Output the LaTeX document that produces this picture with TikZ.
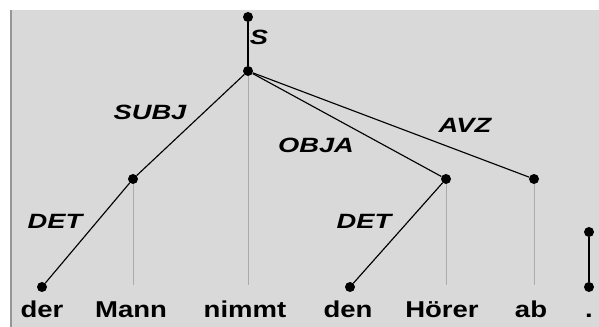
\documentclass[tikz,border=0pt]{standalone}
\usepackage{fontspec}
\usepackage{xcolor}
\usepackage{tikz}
\usetikzlibrary{positioning,calc}
\newfontfamily\treefont[FakeStretch=1.2]{Liberation Sans}
\newfontfamily\relfont[FakeStretch=1.32]{Liberation Sans}
\definecolor{panel}{RGB}{217,217,217}
\definecolor{rim}{RGB}{150,150,150}
\definecolor{proj}{RGB}{172,172,172}
\tikzset{
  dot/.style={circle,fill=black,inner sep=0pt,minimum size=7.5pt},
  dep/.style={line width=0.85pt,black},
  projline/.style={line width=0.5pt,proj},
  word/.style={anchor=base,inner sep=0pt,font=\treefont\bfseries\fontsize{17.2}{19}\selectfont},
  rel/.style={inner sep=0pt,font=\relfont\bfseries\itshape\fontsize{15.5}{17}\selectfont}
}
\begin{document}
\begin{tikzpicture}[x=0.75pt,y=-0.75pt]
  \useasboundingbox (0,0) rectangle (599,327);
  \fill[panel] (11,10) rectangle (599,327);
  \draw[rim,line width=1.2pt] (11,10) -- (11,327);
  % dependency nodes
  \node[dot] (top) at (248,17) {};
  \node[dot] (nimmt) at (248,71) {};
  \node[dot] (mann) at (133,179) {};
  \node[dot] (der) at (42,287) {};
  \node[dot] (hoerer) at (446,179) {};
  \node[dot] (den) at (350,287) {};
  \node[dot] (ab) at (534,179) {};
  \node[dot] (pTop) at (589,232) {};
  \node[dot] (pBot) at (589,287) {};
  % words
  \node[word] (wDer) at (42,318) {der};
  \node[word] (wMann) at (131,318) {Mann};
  \node[word] (wNimmt) at (245,318) {nimmt};
  \node[word] (wDen) at (348,318) {den};
  \node[word] (wHoerer) at (442,318) {Hörer};
  \node[word] (wAb) at (531,318) {ab};
  \node[word] (wDot) at (589,318) {.};
  % projection lines
  \coordinate (eMann) at (133,285);
  \coordinate (eNimmt) at (248,285);
  \coordinate (eHoerer) at (446,285);
  \coordinate (eAb) at (534,285);
  \draw[projline] (mann) -- (eMann);
  \draw[projline] (nimmt) -- (eNimmt);
  \draw[projline] (hoerer) -- (eHoerer);
  \draw[projline] (ab) -- (eAb);
  % edges
  \draw[dep] (top) -- (nimmt);
  \draw[dep] (nimmt) -- (mann);
  \draw[dep] (mann) -- (der);
  \draw[dep] (nimmt) -- (hoerer);
  \draw[dep] (hoerer) -- (den);
  \draw[dep] (nimmt) -- (ab);
  \draw[dep] (pTop) -- (pBot);
  % relation labels
  \node[rel] (lS) at (259,37) {S};
  \node[rel] (lSubj) at (150,112) {SUBJ};
  \node[rel] (lDet) at (55,221) {DET};
  \node[rel] (lObja) at (316,145) {OBJA};
  \node[rel] (lAvz) at (465,125) {AVZ};
  \node[rel] (lDet2) at (364,221) {DET};
\end{tikzpicture}
\end{document}
